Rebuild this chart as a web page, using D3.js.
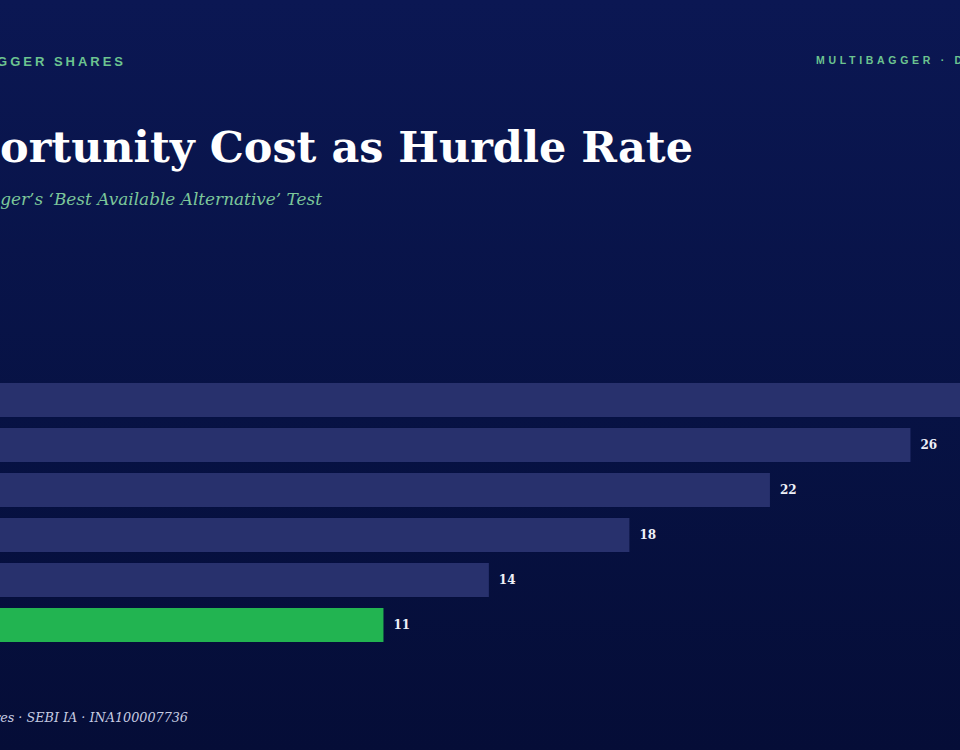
<!DOCTYPE html>
<html>
<head>
<meta charset="utf-8">
<script src="https://cdn.jsdelivr.net/npm/d3@7"></script>
<style>
  html, body { margin: 0; padding: 0; background: #070f3d; overflow: hidden; }
  svg { display: block; }
</style>
</head>
<body>
<div id="chart"></div>
<script>
// chart data
var categories = ["Best idea", "Second idea", "Third idea", "Fourth idea", "Fifth idea", "Index fund"];
var values = [30, 26, 22, 18, 14, 11];
var highlight = "Index fund";

var svgWidth = 960;
var svgHeight = 750;

var svg = d3.select("#chart")
  .append("svg")
  .attr("width", svgWidth)
  .attr("height", svgHeight);

// background gradient
var defs = svg.append("defs");
var grad = defs.append("linearGradient")
  .attr("id", "bg")
  .attr("x1", 0).attr("y1", 0).attr("x2", 0).attr("y2", 1);
grad.append("stop").attr("offset", "0%").attr("stop-color", "#0b1753");
grad.append("stop").attr("offset", "55%").attr("stop-color", "#071244");
grad.append("stop").attr("offset", "100%").attr("stop-color", "#050d37");

svg.append("rect")
  .attr("width", svgWidth)
  .attr("height", svgHeight)
  .attr("fill", "url(#bg)");

// fit a text so that a given tail of it spans a target width
function fitTail(sel, full, tail, target) {
  sel.text(tail);
  var w = sel.node().getComputedTextLength();
  var size = parseFloat(sel.style("font-size"));
  sel.style("font-size", (size * target / w) + "px");
  sel.text(full);
}

// header
var headL = svg.append("text")
  .attr("x", 126)
  .attr("y", 66)
  .attr("text-anchor", "end")
  .style("font-family", "'Liberation Sans', Arial, sans-serif")
  .style("font-weight", "bold")
  .style("font-size", "13px")
  .style("letter-spacing", "3px")
  .attr("fill", "#6cc490");
fitTail(headL, "MULTIBAGGER SHARES", "GGER SHARES", 129);

svg.append("text")
  .attr("x", 816)
  .attr("y", 64)
  .style("font-family", "'Liberation Sans', Arial, sans-serif")
  .style("font-weight", "bold")
  .style("font-size", "10.5px")
  .style("letter-spacing", "3.7px")
  .attr("fill", "#6cc490")
  .text("MULTIBAGGER · DEEP DIVE");

// title
var title = svg.append("text")
  .attr("x", 693)
  .attr("y", 162)
  .attr("text-anchor", "end")
  .style("font-family", "'DejaVu Serif', Georgia, serif")
  .style("font-weight", "bold")
  .style("font-size", "44px")
  .attr("fill", "#ffffff");
fitTail(title, "Opportunity Cost as Hurdle Rate", "ortunity Cost as Hurdle Rate", 693);

var sub = svg.append("text")
  .attr("x", 322)
  .attr("y", 205)
  .attr("text-anchor", "end")
  .style("font-family", "'DejaVu Serif', Georgia, serif")
  .style("font-style", "italic")
  .style("font-size", "18px")
  .attr("fill", "#7cc79a");
fitTail(sub, "Munger\u2019s \u2018Best Available Alternative\u2019 Test", "ger\u2019s \u2018Best Available Alternative\u2019 Test", 322);

// scales
var xScale = d3.scaleLinear()
  .domain([0, 30])
  .range([-3, 1051]);

var yScale = d3.scaleBand()
  .domain(categories)
  .range([383, 642])
  .paddingInner(0.244)
  .paddingOuter(0);

var data = categories.map(function(c, i) {
  return { name: c, value: values[i] };
});

var chartGroup = svg.append("g");

chartGroup.selectAll("rect.bar")
  .data(data)
  .enter()
  .append("rect")
  .attr("class", "bar")
  .attr("x", xScale(0))
  .attr("y", d => yScale(d.name))
  .attr("width", d => xScale(d.value) - xScale(0))
  .attr("height", yScale.bandwidth())
  .attr("fill", d => d.name === highlight ? "#22b451" : "#28316d");

chartGroup.selectAll("text.val")
  .data(data)
  .enter()
  .append("text")
  .attr("class", "val")
  .attr("x", d => xScale(d.value) + 10)
  .attr("y", d => yScale(d.name) + yScale.bandwidth() / 2)
  .attr("dy", "0.35em")
  .style("font-family", "'DejaVu Serif', Georgia, serif")
  .style("font-weight", "bold")
  .style("font-size", "12px")
  .attr("fill", "#eef0f8")
  .text(d => d.value);

// footer
var foot = svg.append("text")
  .attr("x", 188)
  .attr("y", 722)
  .attr("text-anchor", "end")
  .style("font-family", "'DejaVu Serif', Georgia, serif")
  .style("font-style", "italic")
  .style("font-size", "14px")
  .attr("fill", "#c6cce2");
fitTail(foot, "Multibagger Shares \u00b7 SEBI IA \u00b7 INA100007736", "es \u00b7 SEBI IA \u00b7 INA100007736", 188);
</script>
</body>
</html>
